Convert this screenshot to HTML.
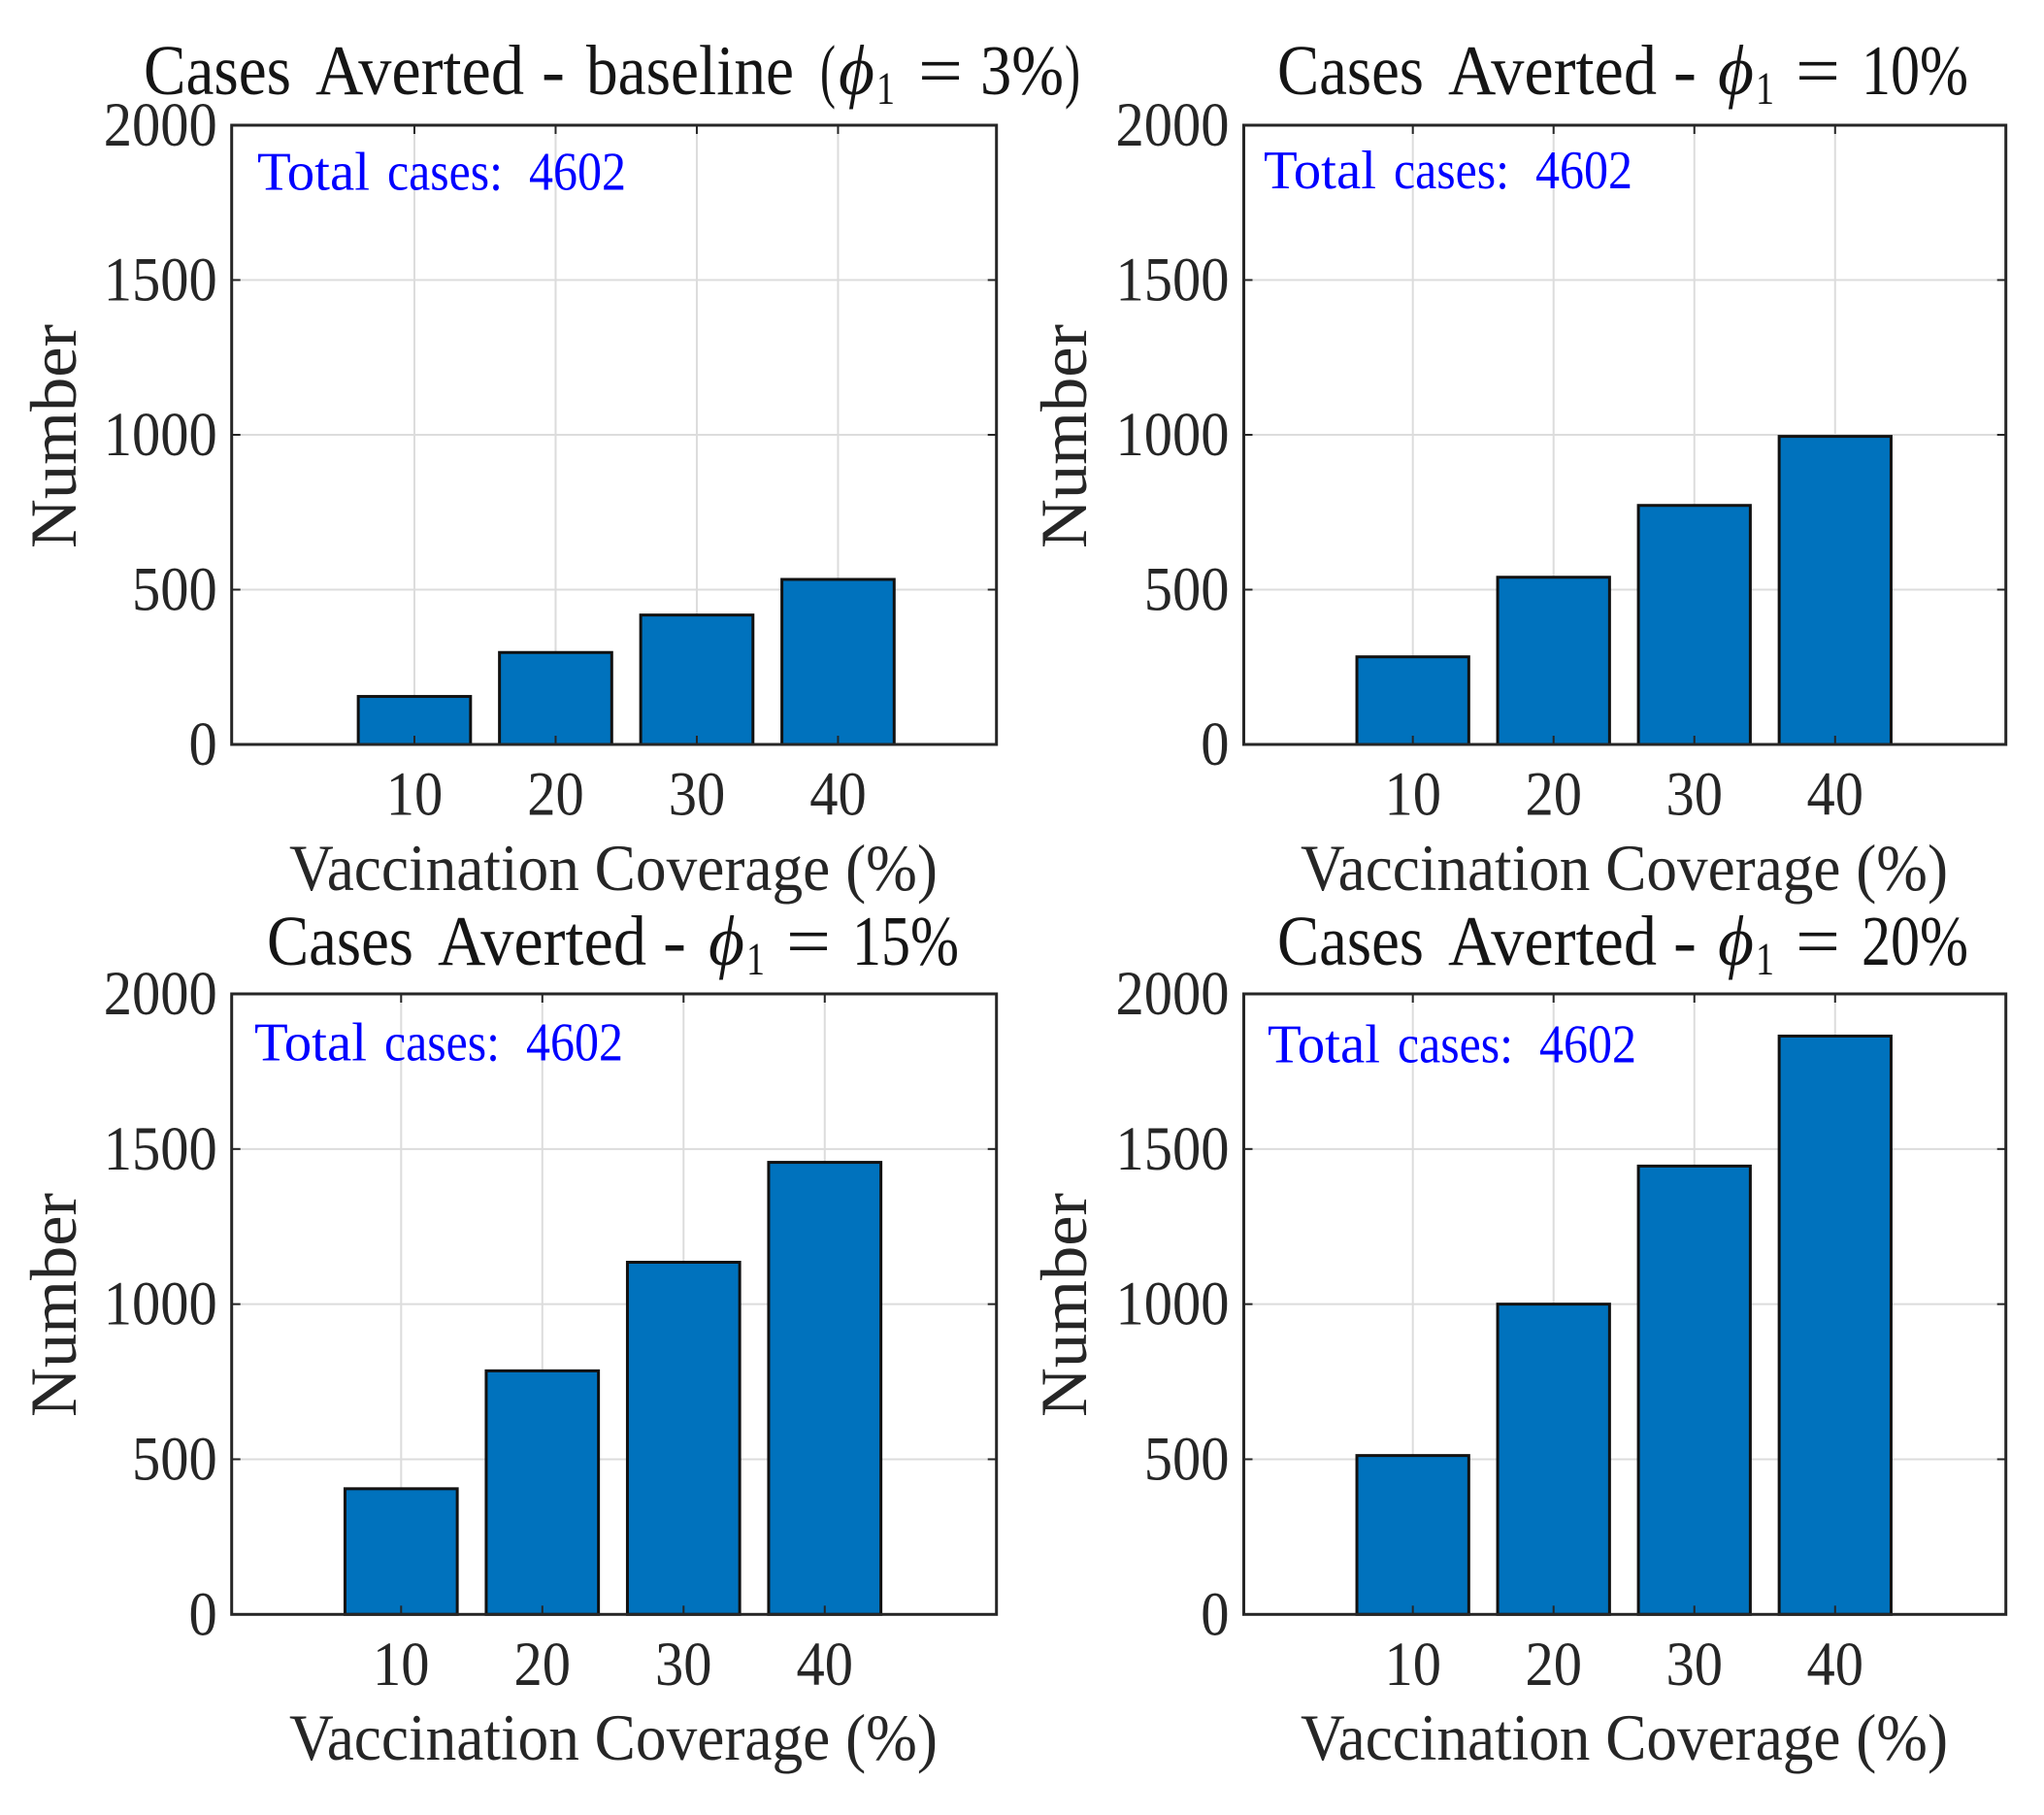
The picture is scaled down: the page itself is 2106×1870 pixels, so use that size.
<!DOCTYPE html>
<html lang="en">
<head>
<meta charset="utf-8">
<title>Cases Averted by Vaccination Coverage</title>
<style>
html,body{margin:0;padding:0;background:#fff;}
svg{display:block;}
text{font-family:"Liberation Serif","DejaVu Serif",serif;}
.title{font-size:73px;fill:#151515;}
.math{font-size:73px;fill:#151515;font-style:italic;}
.sub{font-size:48px;fill:#151515;}
.xlabel,.ylabel{font-size:68px;fill:#262626;}
.note{font-size:56.6px;fill:#0000ff;}
.tick{font-size:65px;fill:#262626;}
</style>
</head>
<body>
<svg id="figure" xmlns="http://www.w3.org/2000/svg" width="2106" height="1870" viewBox="0 0 2106 1870">
  <rect x="0" y="0" width="2106" height="1870" fill="#ffffff"/>
  <g id="plots"></g>

  <g>
    <text class="title" x="148" y="97" textLength="152" lengthAdjust="spacingAndGlyphs">Cases</text>
    <text class="title" x="325" y="97" textLength="215" lengthAdjust="spacingAndGlyphs">Averted</text>
    <text class="title" x="558" y="97" textLength="24" lengthAdjust="spacingAndGlyphs">-</text>
    <text class="title" x="604" y="97" textLength="214" lengthAdjust="spacingAndGlyphs">baseline</text>
    <text class="title" x="845" y="97" textLength="16" lengthAdjust="spacingAndGlyphs">(</text>
    <text class="math" x="864" y="97" textLength="37" lengthAdjust="spacingAndGlyphs">ϕ</text>
    <text class="sub" x="903" y="107" textLength="19" lengthAdjust="spacingAndGlyphs">1</text>
    <text class="title" x="946" y="97" textLength="46" lengthAdjust="spacingAndGlyphs">=</text>
    <text class="title" x="1010" y="97" textLength="86" lengthAdjust="spacingAndGlyphs">3%</text>
    <text class="title" x="1097" y="97" textLength="16" lengthAdjust="spacingAndGlyphs">)</text>
  </g>
  <g>
    <text class="title" x="1316" y="97" textLength="151" lengthAdjust="spacingAndGlyphs">Cases</text>
    <text class="title" x="1492" y="97" textLength="215" lengthAdjust="spacingAndGlyphs">Averted</text>
    <text class="title" x="1724" y="97" textLength="24" lengthAdjust="spacingAndGlyphs">-</text>
    <text class="math" x="1770" y="97" textLength="37" lengthAdjust="spacingAndGlyphs">ϕ</text>
    <text class="sub" x="1809" y="107" textLength="19" lengthAdjust="spacingAndGlyphs">1</text>
    <text class="title" x="1850" y="97" textLength="46" lengthAdjust="spacingAndGlyphs">=</text>
    <text class="title" x="1918" y="97" textLength="110" lengthAdjust="spacingAndGlyphs">10%</text>
  </g>
  <g>
    <text class="title" x="275" y="994" textLength="151" lengthAdjust="spacingAndGlyphs">Cases</text>
    <text class="title" x="451" y="994" textLength="215" lengthAdjust="spacingAndGlyphs">Averted</text>
    <text class="title" x="683" y="994" textLength="24" lengthAdjust="spacingAndGlyphs">-</text>
    <text class="math" x="730" y="994" textLength="37" lengthAdjust="spacingAndGlyphs">ϕ</text>
    <text class="sub" x="769" y="1004" textLength="19" lengthAdjust="spacingAndGlyphs">1</text>
    <text class="title" x="810" y="994" textLength="46" lengthAdjust="spacingAndGlyphs">=</text>
    <text class="title" x="878" y="994" textLength="110" lengthAdjust="spacingAndGlyphs">15%</text>
  </g>
  <g>
    <text class="title" x="1316" y="994" textLength="151" lengthAdjust="spacingAndGlyphs">Cases</text>
    <text class="title" x="1492" y="994" textLength="215" lengthAdjust="spacingAndGlyphs">Averted</text>
    <text class="title" x="1724" y="994" textLength="24" lengthAdjust="spacingAndGlyphs">-</text>
    <text class="math" x="1770" y="994" textLength="37" lengthAdjust="spacingAndGlyphs">ϕ</text>
    <text class="sub" x="1809" y="1004" textLength="19" lengthAdjust="spacingAndGlyphs">1</text>
    <text class="title" x="1850" y="994" textLength="46" lengthAdjust="spacingAndGlyphs">=</text>
    <text class="title" x="1918" y="994" textLength="110" lengthAdjust="spacingAndGlyphs">20%</text>
  </g>

  <g class="note">
    <text class="note" x="265" y="195.5" textLength="116" lengthAdjust="spacingAndGlyphs">Total</text>
    <text class="note" x="399" y="195.5" textLength="119" lengthAdjust="spacingAndGlyphs">cases:</text>
    <text class="note" x="545" y="195.5" textLength="100" lengthAdjust="spacingAndGlyphs">4602</text>
  </g>
  <g class="note">
    <text class="note" x="1302" y="194" textLength="116" lengthAdjust="spacingAndGlyphs">Total</text>
    <text class="note" x="1436" y="194" textLength="119" lengthAdjust="spacingAndGlyphs">cases:</text>
    <text class="note" x="1582" y="194" textLength="100" lengthAdjust="spacingAndGlyphs">4602</text>
  </g>
  <g class="note">
    <text class="note" x="262" y="1092.5" textLength="116" lengthAdjust="spacingAndGlyphs">Total</text>
    <text class="note" x="396" y="1092.5" textLength="119" lengthAdjust="spacingAndGlyphs">cases:</text>
    <text class="note" x="542" y="1092.5" textLength="100" lengthAdjust="spacingAndGlyphs">4602</text>
  </g>
  <g class="note">
    <text class="note" x="1306" y="1094.5" textLength="116" lengthAdjust="spacingAndGlyphs">Total</text>
    <text class="note" x="1440" y="1094.5" textLength="119" lengthAdjust="spacingAndGlyphs">cases:</text>
    <text class="note" x="1586" y="1094.5" textLength="100" lengthAdjust="spacingAndGlyphs">4602</text>
  </g>

  <text class="xlabel" x="298" y="917" textLength="668" lengthAdjust="spacingAndGlyphs">Vaccination Coverage (%)</text>
  <text class="xlabel" x="1340" y="917" textLength="667" lengthAdjust="spacingAndGlyphs">Vaccination Coverage (%)</text>
  <text class="xlabel" x="298" y="1813" textLength="668" lengthAdjust="spacingAndGlyphs">Vaccination Coverage (%)</text>
  <text class="xlabel" x="1340" y="1813" textLength="667" lengthAdjust="spacingAndGlyphs">Vaccination Coverage (%)</text>

  <text class="ylabel" transform="translate(78,565) rotate(-90)" textLength="231" lengthAdjust="spacingAndGlyphs">Number</text>
  <text class="ylabel" transform="translate(1119,565) rotate(-90)" textLength="231" lengthAdjust="spacingAndGlyphs">Number</text>
  <text class="ylabel" transform="translate(78,1460) rotate(-90)" textLength="231" lengthAdjust="spacingAndGlyphs">Number</text>
  <text class="ylabel" transform="translate(1119,1460) rotate(-90)" textLength="231" lengthAdjust="spacingAndGlyphs">Number</text>
</svg>

<script>
// Chart data
const categories = [10, 20, 30, 40];
const xTickLabels = ['10', '20', '30', '40'];
const yTicks = [0, 500, 1000, 1500, 2000];
const yTickLabels = ['0', '500', '1000', '1500', '2000'];
const averted3 = [155, 297, 418, 533];
const averted10 = [283, 540, 772, 995];
const averted15 = [405, 785, 1135, 1457];
const averted20 = [512, 1000, 1445, 1864];
const panelNames = ['baseline', 'phi-10', 'phi-15', 'phi-20'];
const panelSeries = [averted3, averted10, averted15, averted20];

// Axes layout
const yMax = 2000;
const barWidthUnits = 7.95;
const frames = [
  { left: 238.7, right: 1026.7, top: 129, bottom: 767, xMin: -2.94, xMax: 51.22 },
  { left: 1281.5, right: 2066.7, top: 129, bottom: 767, xMin: -2.01, xMax: 52.13 },
  { left: 238.7, right: 1026.7, top: 1024, bottom: 1663.3, xMin: -2.0, xMax: 52.16 },
  { left: 1281.5, right: 2066.7, top: 1024, bottom: 1663.3, xMin: -2.01, xMax: 52.13 }
];

const SVG_NS = 'http://www.w3.org/2000/svg';
const plots = document.getElementById('plots');

function xScale(frame, value) {
  return frame.left + (value - frame.xMin) / (frame.xMax - frame.xMin) * (frame.right - frame.left);
}
function yScale(frame, value) {
  return frame.bottom - value / yMax * (frame.bottom - frame.top);
}
function svgEl(tag, props, parent) {
  const el = document.createElementNS(SVG_NS, tag);
  Object.keys(props).forEach(function (key) { el.setAttribute(key, props[key]); });
  parent.appendChild(el);
  return el;
}
function drawLine(parent, x1, y1, x2, y2, color, width) {
  return svgEl('line', { x1: x1, y1: y1, x2: x2, y2: y2, stroke: color, 'stroke-width': width }, parent);
}

frames.forEach(function (frame, p) {
  const name = panelNames[p];
  const values = panelSeries[p];

  const group = svgEl('g', {}, plots);
  
  

  // Gridlines
  categories.forEach(function (cat) {
    const x = xScale(frame, cat);
    const grid = drawLine(group, x, frame.top, x, frame.bottom, '#dcdcdc', 2);
    
    
  });
  yTicks.forEach(function (tick) {
    const y = yScale(frame, tick);
    const grid = drawLine(group, frame.left, y, frame.right, y, '#dcdcdc', 2);
    
    
  });

  // Bars
  categories.forEach(function (cat, i) {
    const x0 = xScale(frame, cat - barWidthUnits / 2);
    const x1 = xScale(frame, cat + barWidthUnits / 2);
    const yTop = yScale(frame, values[i]);
    const bar = svgEl('rect', {
      x: x0, y: yTop, width: x1 - x0, height: yScale(frame, 0) - yTop,
      fill: '#0072bd', stroke: '#111111', 'stroke-width': 3
    }, group);
    
    
  });

  // Tick marks and tick labels
  categories.forEach(function (cat, i) {
    const x = xScale(frame, cat);
    const bottomTick = drawLine(group, x, frame.bottom, x, frame.bottom - 9, '#262626', 2);
    
    
    const topTick = drawLine(group, x, frame.top, x, frame.top + 9, '#262626', 2);
    
    
    const label = svgEl('text', {
      class: 'tick', 'text-anchor': 'middle',
      transform: 'translate(' + x + ',' + (frame.bottom + 72.5) + ') scale(0.9,1)'
    }, group);
    label.textContent = xTickLabels[i];
    
    
  });
  yTicks.forEach(function (tick, i) {
    const y = yScale(frame, tick);
    const leftTick = drawLine(group, frame.left, y, frame.left + 9, y, '#262626', 2);
    
    
    const rightTick = drawLine(group, frame.right, y, frame.right - 9, y, '#262626', 2);
    
    
    const label = svgEl('text', {
      class: 'tick', 'text-anchor': 'end',
      transform: 'translate(' + (frame.left - 15) + ',' + (y + 21) + ') scale(0.9,1)'
    }, group);
    label.textContent = yTickLabels[i];
    
    
  });

  // Axes box
  const box = svgEl('rect', {
    x: frame.left, y: frame.top, width: frame.right - frame.left, height: frame.bottom - frame.top,
    fill: 'none', stroke: '#262626', 'stroke-width': 3
  }, group);
  
  
});
</script>
</body>
</html>
